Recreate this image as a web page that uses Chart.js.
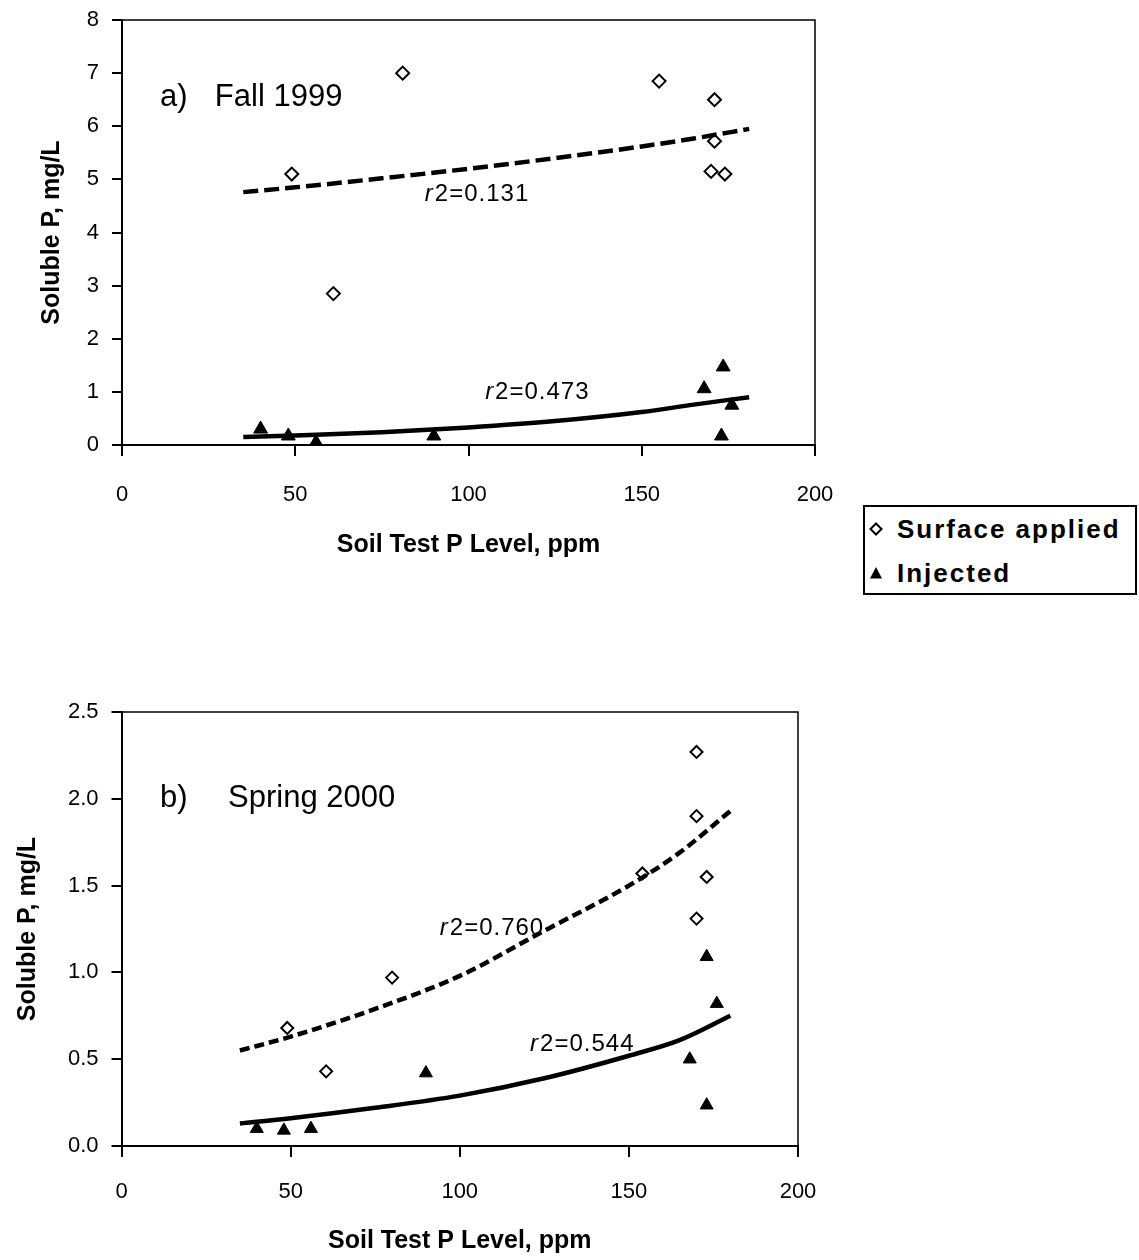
<!DOCTYPE html>
<html>
<head>
<meta charset="utf-8">
<script src="https://cdn.jsdelivr.net/npm/chart.js@4.4.0/dist/chart.umd.min.js"></script>
<style>
    html, body { margin: 0; padding: 0; background: #fff; }
    body { width: 1139px; height: 1260px; position: relative; overflow: hidden; font-family: 'Liberation Sans', Arial, sans-serif; }
    .panel { position: absolute; left: 0; }
    #panel-a { top: 0; }
    #panel-b { top: 690px; }
    #leyenda { position: absolute; left: 863px; top: 505px; width: 270px; height: 86px; border: 2px solid #000; }
    #leyenda div { height: 44px; line-height: 44px; padding-left: 4px; font-weight: bold; font-size: 26px; letter-spacing: 2px; color: #000; white-space: nowrap; }
    #leyenda svg { vertical-align: middle; margin-right: 14px; position: relative; top: -2px; }
</style>
</head>
<body>
<div class="panel" id="panel-a"><canvas id="grafica-a" width="850" height="580"></canvas></div>
<div class="panel" id="panel-b"><canvas id="grafica-b" width="850" height="570"></canvas></div>
<div id="leyenda">
    <div><svg width="14" height="14" viewBox="0 0 14 14"><path d="M7 1.5 L12.5 7 L7 12.5 L1.5 7 Z" fill="#fff" stroke="#000" stroke-width="2"/></svg>Surface applied</div>
    <div><svg width="14" height="14" viewBox="0 0 14 14"><path d="M7 1 L13 12.5 L1 12.5 Z" fill="#000"/></svg>Injected</div>
</div>
<script>
// a) Fall 1999
var PPM_SUP_A = [49, 61, 81, 155, 171, 171, 170, 174];
var SOL_SUP_A = [5.1, 2.85, 7.0, 6.85, 6.5, 5.72, 5.15, 5.1];
var PPM_INY_A = [40, 48, 56, 90, 168, 173.5, 176, 173];
var SOL_INY_A = [0.3, 0.17, 0.05, 0.17, 1.06, 1.47, 0.75, 0.17];
var PPM_TEND_A = [35, 50, 75, 100, 125, 150, 165, 181];
var TEND_SUP_A = [4.76, 4.85, 5.02, 5.2, 5.4, 5.62, 5.77, 5.95];
var TEND_INY_A = [0.15, 0.18, 0.24, 0.33, 0.45, 0.62, 0.76, 0.9];

// b) Spring 2000
var PPM_SUP_B = [49, 60.5, 80, 154, 170, 170, 173, 170];
var SOL_SUP_B = [0.68, 0.43, 0.97, 1.57, 2.27, 1.9, 1.55, 1.31];
var PPM_INY_B = [40, 48, 56, 90, 173, 176, 168, 173];
var SOL_INY_B = [0.1, 0.09, 0.1, 0.42, 1.09, 0.82, 0.5, 0.235];
var PPM_TEND_B = [35, 50, 75, 100, 125, 150, 165, 180];
var TEND_SUP_B = [0.55, 0.63, 0.79, 0.98, 1.24, 1.5, 1.69, 1.93];
var TEND_INY_B = [0.13, 0.16, 0.22, 0.29, 0.39, 0.52, 0.61, 0.75];

var TICKS_X = [0, 50, 100, 150, 200];
var TICKS_Y_A = [0, 1, 2, 3, 4, 5, 6, 7, 8];
var TICKS_Y_B = [0, 0.5, 1.0, 1.5, 2.0, 2.5];

var TITULO_X = 'Soil Test P Level, ppm';
var TITULO_Y = 'Soluble P, mg/L';

// rótulos en coordenadas de datos
var ROTULOS_A = [
    {texto: 'a)', x: 11, y: 6.55},
    {texto: 'Fall 1999', x: 26.8, y: 6.55},
    {r2: '2=0.131', x: 87.4, y: 4.71},
    {r2: '2=0.473', x: 104.8, y: 1.0},
];
var ROTULOS_B = [
    {texto: 'b)', x: 11.4, y: 2.0},
    {texto: 'Spring 2000', x: 31.5, y: 2.0},
    {r2: '2=0.760', x: 94.1, y: 1.256},
    {r2: '2=0.544', x: 120.8, y: 0.588},
];

var FUENTE_NUM = "'Liberation Sans Narrow', 'Arial Narrow', 'Liberation Sans', Arial, sans-serif";
var FUENTE = "'Liberation Sans', Arial, sans-serif";

function pares(xs, ys) {
    return xs.map(function (x, i) {
        return {x: x, y: ys[i]};
    });
}

var marco = {
    id: 'marco',
    afterDraw: function (chart) {
        var a = chart.chartArea;
        var ctx = chart.ctx;
        ctx.save();
        ctx.strokeStyle = '#000';
        ctx.lineWidth = 1.5;
        ctx.beginPath();
        ctx.moveTo(a.left, a.top);
        ctx.lineTo(a.right, a.top);
        ctx.lineTo(a.right, a.bottom);
        ctx.stroke();
        ctx.restore();
    },
};

var rotulos = {
    id: 'rotulos',
    afterDraw: function (chart, args, opts) {
        var ctx = chart.ctx;
        var sx = chart.scales.x;
        var sy = chart.scales.y;
        ctx.save();
        ctx.fillStyle = '#000';
        ctx.textBaseline = 'middle';
        ctx.textAlign = 'left';
        (opts.lista || []).forEach(function (r) {
            var px = sx.getPixelForValue(r.x);
            var py = sy.getPixelForValue(r.y);
            if (r.texto) {
                ctx.font = '31px ' + FUENTE;
                ctx.fillText(r.texto, px, py);
                return;
            }
            ctx.letterSpacing = '1px';
            ctx.font = 'italic 24px ' + FUENTE_NUM;
            ctx.fillText('r', px, py);
            var w = ctx.measureText('r').width;
            ctx.font = '24px ' + FUENTE_NUM;
            ctx.fillText(r.r2, px + w + 1, py);
            ctx.letterSpacing = '0px';
        });
        ctx.restore();
    },
};

function sinRelleno(s) {
    s.paddingTop = 0;
    s.paddingBottom = 0;
    s.paddingLeft = 0;
    s.paddingRight = 0;
}

function crearGrafica(canvasId, c) {
    var canvas = document.getElementById(canvasId);

    return new Chart(canvas, {
        type: 'scatter',
        data: {
            datasets: [{
                label: 'Tendencia surface',
                data: pares(c.ppmTend, c.tendSup),
                showLine: true,
                borderColor: '#000',
                borderWidth: 4.5,
                borderDash: c.guiones,
                pointRadius: 0,
                cubicInterpolationMode: 'monotone',
            }, {
                label: 'Tendencia injected',
                data: pares(c.ppmTend, c.tendIny),
                showLine: true,
                borderColor: '#000',
                borderWidth: 4.5,
                pointRadius: 0,
                cubicInterpolationMode: 'monotone',
            }, {
                label: 'Surface applied',
                data: pares(c.ppmSup, c.solSup),
                pointStyle: 'rectRot',
                pointRadius: c.radioDiamante,
                pointBackgroundColor: '#fff',
                pointBorderColor: '#000',
                pointBorderWidth: 2,
            }, {
                label: 'Injected',
                data: pares(c.ppmIny, c.solIny),
                pointStyle: 'triangle',
                pointRadius: c.radioTriangulo,
                pointBackgroundColor: '#000',
                pointBorderColor: '#000',
                pointBorderWidth: 1,
            }],
        },
        options: {
            responsive: false,
            animation: false,
            events: [],
            layout: {padding: {top: c.padTop, right: c.padRight, left: 0, bottom: 0}},
            plugins: {
                legend: {display: false},
                tooltip: {enabled: false},
                rotulos: {lista: c.rotulos},
            },
            scales: {
                x: {
                    type: 'linear',
                    min: 0,
                    max: 200,
                    afterBuildTicks: function (s) {
                        s.ticks = TICKS_X.map(function (v) { return {value: v}; });
                    },
                    afterFit: function (s) {
                        s.height = c.altoX;
                        sinRelleno(s);
                    },
                    grid: {drawOnChartArea: false, tickLength: 11, color: '#000', lineWidth: 2},
                    border: {color: '#000', width: 2},
                    ticks: {color: '#000', padding: c.padTickX, font: {family: FUENTE_NUM, size: 22}},
                    title: {
                        display: true,
                        text: TITULO_X,
                        color: '#000',
                        font: {family: FUENTE, size: 25, weight: 'bold'},
                        padding: {top: 0, bottom: c.padTituloX},
                    },
                },
                y: {
                    type: 'linear',
                    min: 0,
                    max: c.maxY,
                    afterBuildTicks: function (s) {
                        s.ticks = c.ticksY.map(function (v) { return {value: v}; });
                    },
                    afterFit: function (s) {
                        s.width = c.anchoY;
                        sinRelleno(s);
                    },
                    grid: {drawOnChartArea: false, tickLength: 10, color: '#000', lineWidth: 2},
                    border: {color: '#000', width: 2},
                    ticks: {
                        color: '#000',
                        padding: 13,
                        font: {family: FUENTE_NUM, size: 22},
                        callback: function (v) { return c.decimales ? v.toFixed(1) : String(v); },
                    },
                    title: {
                        display: true,
                        text: TITULO_Y,
                        color: '#000',
                        font: {family: FUENTE, size: 25, weight: 'bold'},
                        padding: {top: c.padTituloY, bottom: 0},
                    },
                },
            },
        },
        plugins: [marco, rotulos],
    });
}

crearGrafica('grafica-a', {
    ppmSup: PPM_SUP_A, solSup: SOL_SUP_A,
    ppmIny: PPM_INY_A, solIny: SOL_INY_A,
    ppmTend: PPM_TEND_A, tendSup: TEND_SUP_A, tendIny: TEND_INY_A,
    ticksY: TICKS_Y_A, maxY: 8, decimales: false,
    rotulos: ROTULOS_A, guiones: [15, 6],
    radioDiamante: 6.5, radioTriangulo: 8,
    padTop: 20, padRight: 35, anchoY: 122, altoX: 135,
    padTickX: 26, padTituloX: 20, padTituloY: 37,
});

crearGrafica('grafica-b', {
    ppmSup: PPM_SUP_B, solSup: SOL_SUP_B,
    ppmIny: PPM_INY_B, solIny: SOL_INY_B,
    ppmTend: PPM_TEND_B, tendSup: TEND_SUP_B, tendIny: TEND_INY_B,
    ticksY: TICKS_Y_B, maxY: 2.5, decimales: true,
    rotulos: ROTULOS_B, guiones: [10, 5],
    radioDiamante: 6, radioTriangulo: 7.5,
    padTop: 22, padRight: 52, anchoY: 121.5, altoX: 114,
    padTickX: 22, padTituloX: 4, padTituloY: 13,
});
</script>
</body>
</html>
